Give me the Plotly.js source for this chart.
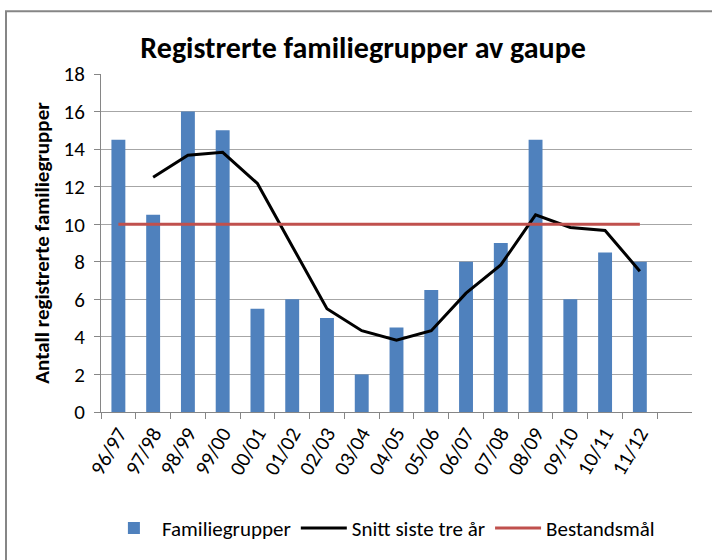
<!DOCTYPE html>
<html><head><meta charset="utf-8">
<script src="https://cdn.plot.ly/plotly-3.0.1.min.js"></script>
<style>body{margin:0;background:#fff}#c{width:712px;height:560px}</style>
</head><body><div id="c"></div>
<script>
const seasons = ["96/97","97/98","98/99","99/00","00/01","01/02","02/03","03/04","04/05","05/06","06/07","07/08","08/09","09/10","10/11","11/12"];
const familiegrupper = [14.5,10.5,16,15,5.5,6,5,2,4.5,6.5,8,9,14.5,6,8.5,8];
const snitt = [null,12.5,13.67,13.83,12.17,8.83,5.5,4.33,3.83,4.33,6.33,7.83,10.5,9.83,9.67,7.5];
const bestandsmal = [10,10,10,10,10,10,10,10,10,10,10,10,10,10,10,10];

const F = "Calibri, Carlito, 'Liberation Sans', Arial, sans-serif";
const traces = [
  {type:"bar", name:"Familiegrupper", x:seasons, y:familiegrupper, marker:{color:"#4F81BD"}},
  {type:"scatter", mode:"lines", name:"Snitt siste tre år", x:seasons, y:snitt, line:{color:"#000000", width:3}, connectgaps:false},
  {type:"scatter", mode:"lines", name:"Bestandsmål", x:seasons, y:bestandsmal, line:{color:"#C0504D", width:3}}
];
const layout = {
  width:712, height:560,
  margin:{l:101, r:20, t:74, b:147},
  paper_bgcolor:"#fff", plot_bgcolor:"#fff",
  font:{family:F, size:21, color:"#000"},
  title:{text:"<b>Registrerte familiegrupper av gaupe</b>", font:{family:F, size:30, color:"#000"}, x:0.51, xanchor:"center", y:0.915, yanchor:"middle"},
  bargap:0.6,
  showlegend:true,
  legend:{orientation:"h", x:0.477, xanchor:"center", y:-0.34, yanchor:"middle", font:{family:F, size:21}, traceorder:"normal", itemwidth:46},
  xaxis:{type:"category", range:[-0.5,16.5], tickangle:-60, tickson:"boundaries", ticks:"outside", ticklen:6, tickcolor:"#868686",
         showline:true, linecolor:"#868686", linewidth:1, showgrid:false, tickfont:{family:F, size:21}, fixedrange:true},
  yaxis:{range:[0,18], dtick:2, ticks:"outside", ticklen:6, tickcolor:"#868686", showline:true, linecolor:"#868686",
         showgrid:true, gridcolor:"#A6A6A6", gridwidth:1, zeroline:false, tickfont:{family:F, size:21}, ticklabelstandoff:5,
         title:{text:"<b>Antall registrerte familiegrupper</b>", font:{family:F, size:21}, standoff:8}},
  shapes:[
    {type:"rect", xref:"paper", yref:"paper", x0:(6-101)/591, x1:(730-101)/591, y0:(413-580)/339, y1:(413-11)/339,
     line:{color:"#868686", width:2}, fillcolor:"rgba(0,0,0,0)", layer:"below"}
  ]
};
Plotly.newPlot("c", traces, layout, {displayModeBar:false, staticPlot:true});
</script></body></html>
